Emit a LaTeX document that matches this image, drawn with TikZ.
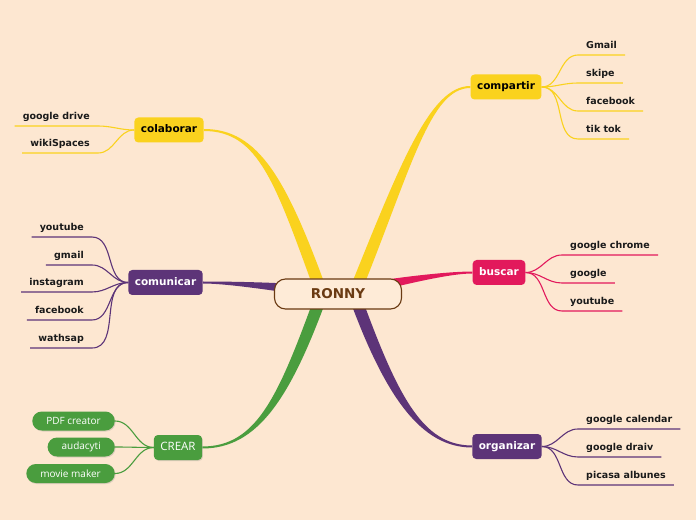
\documentclass[tikz,border=0pt]{standalone}
\usepackage{fontspec}
\setmainfont{DejaVu Sans}
\newfontfamily\pillfont{Open Sans}
\usetikzlibrary{calc,shadows}
\definecolor{bgpeach}{HTML}{FDE7D1}
\definecolor{rootfill}{HTML}{FEEBD7}
\definecolor{rootbrown}{HTML}{6A3A12}
\definecolor{ylw}{HTML}{FAD21E}
\definecolor{prp}{HTML}{5D3478}
\definecolor{pnk}{HTML}{E2195C}
\definecolor{grn}{HTML}{4A9D3E}
\definecolor{leafink}{HTML}{1A1A1A}
\pgfdeclarelayer{paper}
\pgfdeclarelayer{back}
\pgfsetlayers{paper,back,main}
\def\taper[#1](#2,#3,#4)(#5,#6,#7){\fill[#1] ($(#2)+(#3+90:6pt)$) .. controls +(#3:#4) and +(#6:#7) .. ($(#5)+(#6-90:1pt)$) -- ($(#5)+(#6+90:1pt)$) .. controls +(#6:#7) and +(#3:#4) .. ($(#2)+(#3-90:6pt)$) -- cycle;}
\tikzset{
	mainnode/.style={rounded corners=4pt, minimum height=25pt, inner xsep=6.5pt, text height=8pt, text depth=2.5pt, font=\bfseries\fontsize{10.5}{12}\selectfont},
	leaf/.style={inner xsep=8pt, inner ysep=4pt, text height=7.5pt, text depth=2.7pt, text=leafink, font=\bfseries\fontsize{9.5}{11}\selectfont},
	twig/.style={line width=1.1pt},
	pill/.style={fill=grn, text=white, rounded corners=9.5pt, minimum height=19pt, inner xsep=14pt, font=\pillfont\fontsize{10}{12}\selectfont, drop shadow={opacity=0.25, shadow xshift=0.8pt, shadow yshift=-1pt}}
}

\begin{document}
\begin{tikzpicture}[x=1pt,y=1pt]
			%%%%% START %%%%%
			
			\begin{pgfonlayer}{paper}
				\fill[bgpeach] (0, 0) rectangle (696, 520);
			\end{pgfonlayer}
			
			\node[draw=rootbrown, line width=1.1pt, fill=rootfill, rounded corners=11pt, minimum width=127pt, minimum height=30pt, text=rootbrown, font=\bfseries\fontsize{13.5}{15}\selectfont] (root) at (338, 226) {RONNY};
			\coordinate (hubL) at ($(root.center)+(-16, 0)$);
			\coordinate (hubR) at ($(root.center)+(16, 0)$);
			
			\node[mainnode, fill=ylw, text=black] (compartir) at (506, 433) {compartir};
			\node[mainnode, fill=ylw, text=black] (colaborar) at (169, 390) {colaborar};
			\node[mainnode, fill=prp, text=white] (comunicar) at (165.5, 237.5) {comunicar};
			\node[mainnode, fill=pnk, text=white] (buscar) at (499, 247.5) {buscar};
			\node[mainnode, fill=grn, text=white, font=\pillfont\fontsize{11.5}{13}\selectfont, drop shadow={opacity=0.25, shadow xshift=0.8pt, shadow yshift=-1pt}] (crear) at (178, 72.5) {CREAR};
			\node[mainnode, fill=prp, text=white] (organizar) at (507, 73.5) {organizar};
			
			\begin{pgfonlayer}{back}
				\taper[ylw](hubR,68,140)(compartir.west,180,40)
				\taper[ylw](hubL,110,120)(colaborar.east,0,55)
				\taper[prp](root.center,172,40)(comunicar.east,0,30)
				\taper[pnk](root.center,12,40)(buscar.west,180,30)
				\taper[grn](hubL,-110,110)(crear.east,0,55)
				\taper[prp](hubR,-70,110)(organizar.west,180,50)
			\end{pgfonlayer}
			
			% compartir
			\node[leaf, anchor=south west] (gmail) at (578, 465) {Gmail};
			\node[leaf, anchor=south west] (skipe) at (578, 437) {skipe};
			\node[leaf, anchor=south west] (fbA) at (578, 409) {facebook};
			\node[leaf, anchor=south west] (tiktok) at (578, 381) {tik tok};
			\draw[twig, ylw] (compartir.east) to[out=0, in=180] (gmail.south west) -- (gmail.south east);
			\draw[twig, ylw] (compartir.east) to[out=0, in=180] (skipe.south west) -- (skipe.south east);
			\draw[twig, ylw] (compartir.east) to[out=0, in=180] (fbA.south west) -- (fbA.south east);
			\draw[twig, ylw] (compartir.east) to[out=0, in=180] (tiktok.south west) -- (tiktok.south east);
			
			% colaborar
			\node[leaf, anchor=south east] (gdrive) at (98, 394) {google drive};
			\node[leaf, anchor=south east] (wiki) at (98, 367) {wikiSpaces};
			\draw[twig, ylw] (colaborar.west) to[out=180, in=0] (gdrive.south east) -- (gdrive.south west);
			\draw[twig, ylw] (colaborar.west) to[out=180, in=0] (wiki.south east) -- (wiki.south west);
			
			% comunicar
			\node[leaf, anchor=south east] (ytA) at (92, 283) {youtube};
			\node[leaf, anchor=south east] (gmailB) at (92, 255) {gmail};
			\node[leaf, anchor=south east] (insta) at (92, 228) {instagram};
			\node[leaf, anchor=south east] (fbB) at (92, 200) {facebook};
			\node[leaf, anchor=south east] (wath) at (92, 172) {wathsap};
			\draw[twig, prp] (comunicar.west) to[out=180, in=0] (ytA.south east) -- (ytA.south west);
			\draw[twig, prp] (comunicar.west) to[out=180, in=0] (gmailB.south east) -- (gmailB.south west);
			\draw[twig, prp] (comunicar.west) to[out=180, in=0] (insta.south east) -- (insta.south west);
			\draw[twig, prp] (comunicar.west) to[out=180, in=0] (fbB.south east) -- (fbB.south west);
			\draw[twig, prp] (comunicar.west) to[out=180, in=0] (wath.south east) -- (wath.south west);
			
			% buscar
			\node[leaf, anchor=south west] (chrome) at (562, 265) {google chrome};
			\node[leaf, anchor=south west] (google) at (562, 237) {google};
			\node[leaf, anchor=south west] (ytB) at (562, 209) {youtube};
			\draw[twig, pnk] (buscar.east) to[out=0, in=180] (chrome.south west) -- (chrome.south east);
			\draw[twig, pnk] (buscar.east) to[out=0, in=180] (google.south west) -- (google.south east);
			\draw[twig, pnk] (buscar.east) to[out=0, in=180] (ytB.south west) -- (ytB.south east);
			
			% organizar
			\node[leaf, anchor=south west] (calendar) at (578, 91) {google calendar};
			\node[leaf, anchor=south west] (draiv) at (578, 63) {google draiv};
			\node[leaf, anchor=south west] (picasa) at (578, 35) {picasa albunes};
			\draw[twig, prp] (organizar.east) to[out=0, in=180] (calendar.south west) -- (calendar.south east);
			\draw[twig, prp] (organizar.east) to[out=0, in=180] (draiv.south west) -- (draiv.south east);
			\draw[twig, prp] (organizar.east) to[out=0, in=180] (picasa.south west) -- (picasa.south east);
			
			% crear
			\node[pill, anchor=east] (pdf) at (115, 99) {PDF creator};
			\node[pill, anchor=east] (audacyti) at (115, 73) {audacyti};
			\node[pill, anchor=east] (movie) at (115, 46.5) {movie maker};
			\draw[twig, grn] (pdf.east) to[out=0, in=180] (crear.west);
			\draw[twig, grn] (audacyti.east) to[out=0, in=180] (crear.west);
			\draw[twig, grn] (movie.east) to[out=0, in=180] (crear.west);
			
			%%%%% END %%%%%
\end{tikzpicture}
\end{document}
